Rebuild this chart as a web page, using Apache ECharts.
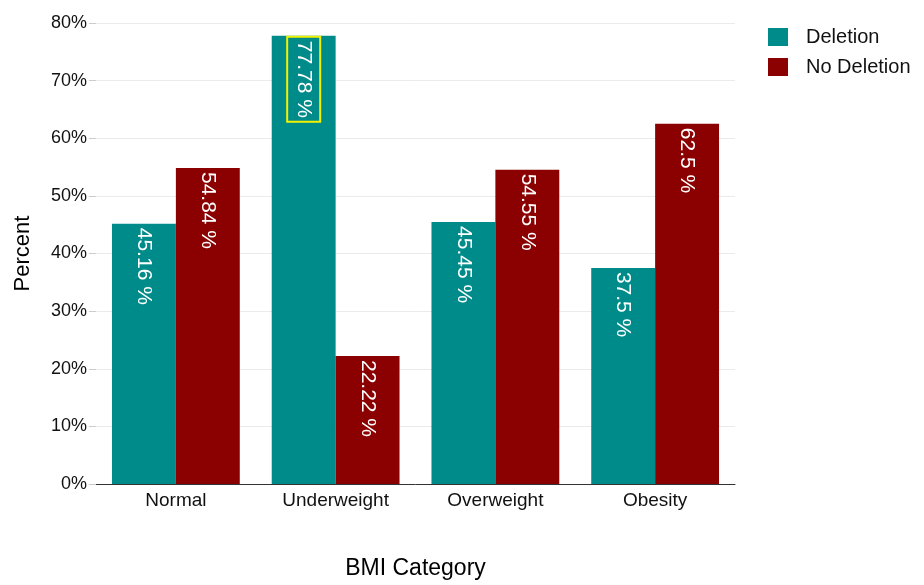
<!DOCTYPE html>
<html>
<head>
<meta charset="utf-8">
<title>BMI Category vs Deletion</title>
<script src="https://cdn.jsdelivr.net/npm/echarts@6/dist/echarts.min.js"></script>
<style>
  html, body { margin: 0; padding: 0; background: #ffffff; }
  #chart { width: 924px; height: 585px; }
</style>
</head>
<body>
<div id="chart"></div>
<script>
// BMI groups along the x axis
const categories = ['Normal', 'Underweight', 'Overweight', 'Obesity'];
// Share of each group (percent)
const deletion = [45.16, 77.78, 45.45, 37.5];
const noDeletion = [54.84, 22.22, 54.55, 62.5];
// Y axis range and step (percent)
const yMin = 0;
const yMax = 80;
const yStep = 10;
// Bar whose label is outlined
const highlightIndex = 1;

const FONT = '"Liberation Sans", Arial, Helvetica, sans-serif';

const baseLabel = {
  show: true,
  position: 'insideTop',
  rotate: -90,
  align: 'left',
  verticalAlign: 'middle',
  distance: 4,
  color: '#ffffff',
  fontFamily: FONT,
  fontSize: 21,
  formatter: p => p.value + ' %'
};

function buildData(values, seriesIdx) {
  return values.map((v, i) => {
    if (seriesIdx === 0 && i === highlightIndex) {
      return {
        value: v,
        label: {
          borderColor: '#f2f200',
          borderWidth: 2,
          padding: [6, 4, 6, 4],
          distance: 1
        }
      };
    }
    return v;
  });
}

const chart = echarts.init(document.getElementById('chart'), null, { renderer: 'canvas' });

chart.setOption({
  animation: false,
  backgroundColor: '#ffffff',
  textStyle: { fontFamily: FONT },
  grid: { left: 96, right: 189, top: 23, bottom: 97, containLabel: false },
  legend: {
    orient: 'vertical',
    left: 763,
    top: 22,
    icon: 'rect',
    itemWidth: 20,
    itemHeight: 18,
    itemGap: 10,
    textStyle: { fontFamily: FONT, fontSize: 20, color: '#111111', padding: [0, 0, 0, 13] },
    data: ['Deletion', 'No Deletion']
  },
  xAxis: {
    type: 'category',
    data: categories,
    name: 'BMI Category',
    nameLocation: 'middle',
    nameGap: 73,
    nameTextStyle: { fontFamily: FONT, fontSize: 23, color: '#000000' },
    axisLine: { show: true, lineStyle: { color: '#333333', width: 1 } },
    axisTick: { show: false },
    axisLabel: { fontFamily: FONT, fontSize: 19, color: '#111111', margin: 7 },
    splitLine: { show: false }
  },
  yAxis: {
    type: 'value',
    min: yMin,
    max: yMax,
    interval: yStep,
    name: 'Percent',
    nameLocation: 'middle',
    nameGap: 62,
    nameRotate: 90,
    nameTextStyle: { fontFamily: FONT, fontSize: 22, color: '#000000' },
    axisLine: { show: false },
    axisTick: { show: true, length: 7, lineStyle: { color: '#cccccc' } },
    axisLabel: { fontFamily: FONT, fontSize: 18, color: '#111111', margin: 9, formatter: '{value}%' },
    splitLine: { show: true, lineStyle: { color: '#ebebeb', width: 1 } }
  },
  series: [
    {
      name: 'Deletion',
      type: 'bar',
      data: buildData(deletion, 0),
      barGap: '0%',
      barCategoryGap: '20%',
      itemStyle: { color: '#008b8b' },
      label: baseLabel
    },
    {
      name: 'No Deletion',
      type: 'bar',
      data: buildData(noDeletion, 1),
      barGap: '0%',
      barCategoryGap: '20%',
      itemStyle: { color: '#8b0000' },
      label: baseLabel
    }
  ]
});
</script>
</body>
</html>
